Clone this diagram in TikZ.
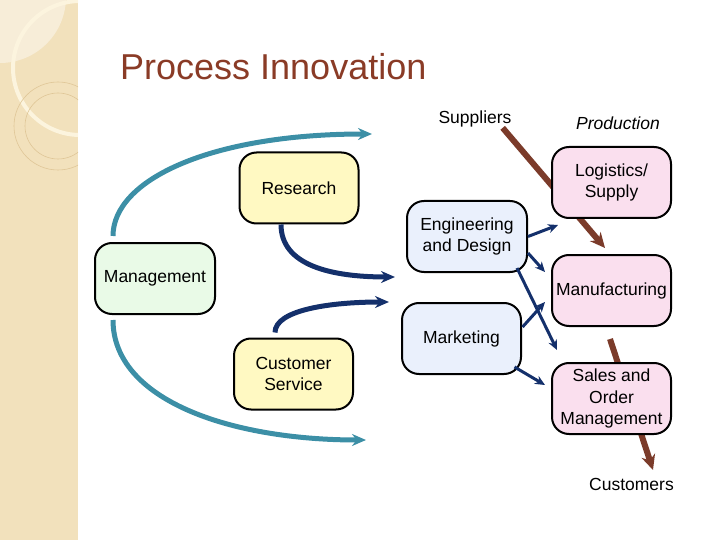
\documentclass[tikz,border=0pt]{standalone}
\usepackage{fontspec}
\setmainfont{Liberation Sans}
\usetikzlibrary{arrows.meta}
\definecolor{strip}{HTML}{F2E1BC}
\definecolor{stripLight}{HTML}{F7EDD8}
\definecolor{stripArc}{HTML}{FCF4DE}
\definecolor{stripLine}{HTML}{DFC697}
\definecolor{titleRed}{HTML}{8A3B26}
\definecolor{teal}{HTML}{3C8FA6}
\definecolor{navy}{HTML}{14306B}
\definecolor{brownArrow}{HTML}{7B3B2A}
\definecolor{fillYellow}{HTML}{FFF9C2}
\definecolor{fillGreen}{HTML}{E9FAE7}
\definecolor{fillBlue}{HTML}{EAF0FC}
\definecolor{fillPink}{HTML}{FADFEE}
\pgfdeclarelayer{back}
\pgfsetlayers{back,main}
\tikzset{
    procbox/.style={draw=black, line width=2pt, rounded corners=17pt,
        minimum width=119pt, minimum height=71pt, inner sep=1pt, align=center,
        font=\fontsize{17.5}{21.5}\selectfont},
    plain/.style={inner sep=0pt, font=\fontsize{17.5}{21.5}\selectfont},
    bigflow/.style={line width=5pt, -{Stealth[length=14pt,width=12pt]}},
    smallflow/.style={navy, line width=3pt, -{Stealth[length=10pt,width=9pt]}},
    goods/.style={brownArrow, line width=6pt, -{Stealth[length=15pt,width=14pt]}}
}
\begin{document}
\begin{tikzpicture}[x=1pt,y=-1pt]
        \useasboundingbox (0,0) rectangle (720,540);
        %% left strip
        \fill[strip] (0,0) rectangle (78,540);
        \begin{scope}
            \clip (0,0) rectangle (78,540);
            \fill[stripLight] (0,-3) circle (66);
            \draw[stripArc, line width=4pt] (80,68) circle (67);
            \foreach \r in {33,44}
                \draw[stripLine, line width=0.6pt] (58,126) circle (\r);
        \end{scope}
        %% title
        \node[anchor=base west, inner sep=0pt, text=titleRed,
              font=\fontsize{36}{40}\selectfont] (title) at (120,80) {Process Innovation};
        %% boxes
        \node[procbox, fill=fillYellow] (research) at (299,188) {Research};
        \node[procbox, fill=fillGreen, minimum width=120pt] (mgmt) at (155,278.5) {Management};
        \node[procbox, fill=fillBlue, minimum width=120pt] (eng) at (467,236.5) {Engineering\\and Design};
        \node[procbox, fill=fillBlue] (mkt) at (461.5,338.5) {Marketing};
        \node[procbox, fill=fillYellow] (custsvc) at (293.5,374) {Customer\\Service};
        \node[procbox, fill=fillPink] (logi) at (611.5,182.5) {Logistics/\\Supply};
        \node[procbox, fill=fillPink] (manuf) at (611.5,290.5) {Manufacturing};
        \node[procbox, fill=fillPink] (sales) at (611.5,398.5) {Sales and\\Order\\Management};
        %% outside labels
        \node[plain, anchor=base] (suppliers) at (475,124) {Suppliers};
        \node[plain, anchor=base, font=\fontsize{17.5}{21.5}\selectfont\itshape] (production) at (618,130) {Production};
        \node[plain, anchor=base] (customers) at (631.5,490) {Customers};
        %% free arrow ends
        \coordinate (mgmtUp) at (372,134);
        \coordinate (mgmtDown) at (366,440);
        \coordinate (researchTo) at (395,277);
        \coordinate (custsvcTo) at (389,302);
        \coordinate (engA) at (558,225);
        \coordinate (engB) at (545,272);
        \coordinate (engC) at (557,350);
        \coordinate (mktA) at (545,302);
        \coordinate (mktB) at (545,385);
        \coordinate (suppliersTo) at (605,248);
        \coordinate (customersFrom) at (653,470);
        %% management arcs
        \draw[bigflow, teal] ([shift={(-42,-6)}]mgmt.north) .. controls (113,180) and (210,134) .. (mgmtUp);
        \draw[bigflow, teal] ([shift={(-42,5)}]mgmt.south) .. controls (113,400) and (230,440) .. (mgmtDown);
        %% research and customer service
        \draw[bigflow, navy] ([xshift=-18pt]research.south) .. controls (281,265) and (330,277) .. (researchTo);
        \draw[bigflow, navy] ([shift={(-18.5,-5)}]custsvc.north) .. controls (275,310) and (330,302) .. (custsvcTo);
        %% engineering and marketing
        \draw[smallflow] (eng.east) -- (engA);
        \draw[smallflow] ([shift={(0,16.5)}]eng.east) -- (engB);
        \draw[smallflow] ([shift={(-11,31.5)}]eng.east) -- (engC);
        \draw[smallflow] ([shift={(0.5,-11.5)}]mkt.east) -- (mktA);
        \draw[smallflow] ([shift={(-7.5,28.5)}]mkt.east) -- (mktB);
        %% flow of goods, behind the boxes
        \begin{pgfonlayer}{back}
            \draw[goods] ([xshift=-9pt]suppliers.south east) -- (suppliersTo);
            \draw[goods] ([shift={(-1.5,12)}]manuf.south) -- (customersFrom);
        \end{pgfonlayer}
    \end{tikzpicture}
\end{document}
